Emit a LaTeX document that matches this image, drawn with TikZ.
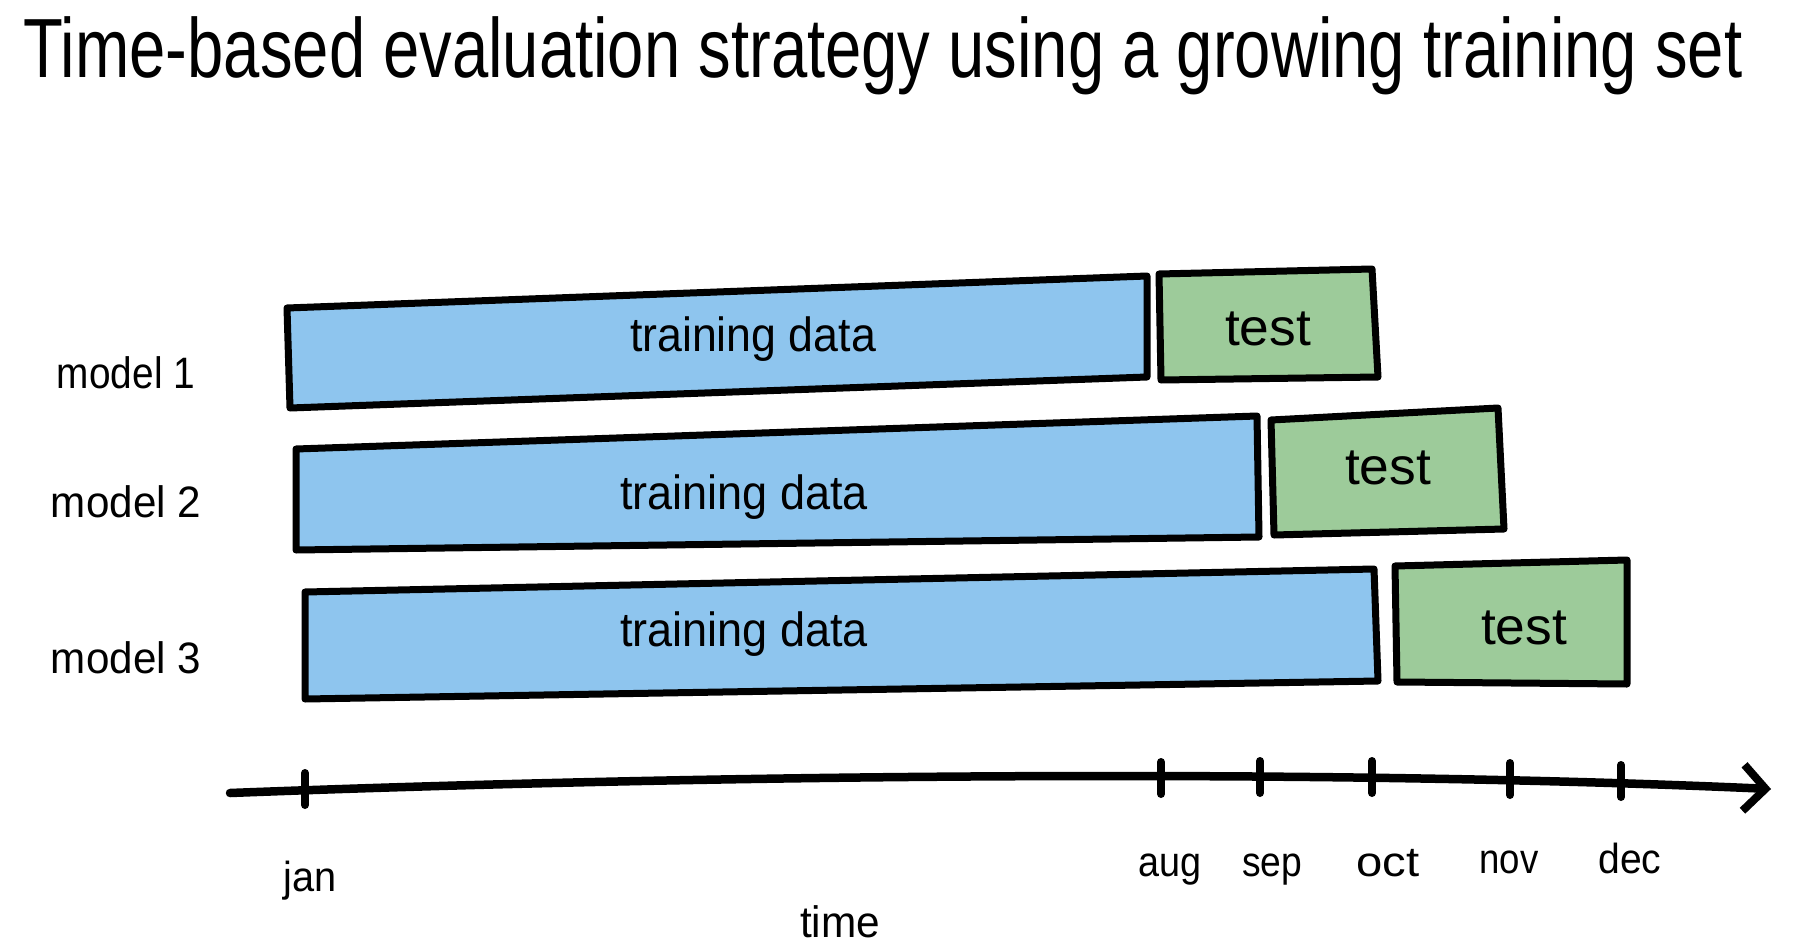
\documentclass[tikz,border=0pt]{standalone}
\usepackage{fontspec}
\setmainfont{Liberation Sans}
\usetikzlibrary{arrows.meta}
\definecolor{trainblue}{HTML}{8EC5EE}
\definecolor{testgreen}{HTML}{9DCB9A}
\newcommand\fitw[3]{\resizebox{#1pt}{\height}{\fontsize{#2}{#2}\selectfont #3}}
\begin{document}
\begin{tikzpicture}[x=1pt,y=-1pt,
  box/.style={line width=7pt, line join=round, draw=black},
  trainbox/.style={box, fill=trainblue},
  testbox/.style={box, fill=testgreen},
  lbl/.style={inner sep=0pt, anchor=base, text=black},
  tick/.style={line width=8pt, line cap=round},
  axis/.style={line width=8.5pt, line cap=round, -{Straight Barb[length=22pt,width=46pt,line width=8pt]}}]
\useasboundingbox (0,0) rectangle (1803,944);
% title
\node[lbl] (title) at (883,78) {\fitw{1719}{84}{Time-based evaluation strategy using a growing training set}};
% model 1
\coordinate (a1) at (287,308); \coordinate (b1) at (1147,276);
\coordinate (c1) at (1147,377); \coordinate (d1) at (290,408);
\draw[trainbox] (a1) -- (b1) -- (c1) -- (d1) -- cycle;
\coordinate (e1) at (1159,274); \coordinate (f1) at (1372,269);
\coordinate (g1) at (1378,377); \coordinate (h1) at (1161,380);
\draw[testbox] (e1) -- (f1) -- (g1) -- (h1) -- cycle;
% model 2
\coordinate (a2) at (296,449); \coordinate (b2) at (1257,416);
\coordinate (c2) at (1259,537); \coordinate (d2) at (296,550);
\draw[trainbox] (a2) -- (b2) -- (c2) -- (d2) -- cycle;
\coordinate (e2) at (1271,420); \coordinate (f2) at (1498,408);
\coordinate (g2) at (1504,529); \coordinate (h2) at (1274,535);
\draw[testbox] (e2) -- (f2) -- (g2) -- (h2) -- cycle;
% model 3
\coordinate (a3) at (305,592); \coordinate (b3) at (1374,569);
\coordinate (c3) at (1378,681); \coordinate (d3) at (305,699);
\draw[trainbox] (a3) -- (b3) -- (c3) -- (d3) -- cycle;
\coordinate (e3) at (1395,566); \coordinate (f3) at (1627,560);
\coordinate (g3) at (1627,684); \coordinate (h3) at (1397,682);
\draw[testbox] (e3) -- (f3) -- (g3) -- (h3) -- cycle;
% box texts
\node[lbl] (tr1) at (753,351) {\fitw{246}{48}{training data}};
\node[lbl] (tr2) at (744,509) {\fitw{248}{48}{training data}};
\node[lbl] (tr3) at (744,646) {\fitw{248}{48}{training data}};
\node[lbl] (te1) at (1268,345) {\fitw{86}{52}{test}};
\node[lbl] (te2) at (1388,484) {\fitw{86}{52}{test}};
\node[lbl] (te3) at (1524,644) {\fitw{86}{52}{test}};
% model labels
\node[lbl] (m1) at (126,388) {\fitw{138}{44}{model 1}};
\node[lbl] (m2) at (126,517) {\fitw{150}{44}{model 2}};
\node[lbl] (m3) at (126,673) {\fitw{150}{44}{model 3}};
% axis
\coordinate (ax0) at (230,793);
\coordinate (ax1) at (1771,789);
\draw[axis] (ax0) .. controls (700,775) and (1300,768) .. (ax1);
\coordinate (jan) at (305,789);
\coordinate (aug) at (1161,778);
\coordinate (sep) at (1260,777);
\coordinate (oct) at (1372,777);
\coordinate (nov) at (1510,779);
\coordinate (dec) at (1621,781);
\foreach \p in {jan,aug,sep,oct,nov,dec}
  \draw[tick] ([yshift=-16pt]\p) -- ([yshift=16pt]\p);
% month labels
\node[lbl] (ljan) at (310,891) {\fitw{53}{42}{jan}};
\node[lbl] (laug) at (1170,876) {\fitw{63}{42}{aug}};
\node[lbl] (lsep) at (1272,876) {\fitw{60}{42}{sep}};
\node[lbl] (loct) at (1388,876) {\fitw{63}{42}{oct}};
\node[lbl] (lnov) at (1509,873) {\fitw{59}{42}{nov}};
\node[lbl] (ldec) at (1630,873) {\fitw{63}{42}{dec}};
\node[lbl] (ltime) at (840,937) {\fitw{80}{44}{time}};
\end{tikzpicture}
\end{document}
